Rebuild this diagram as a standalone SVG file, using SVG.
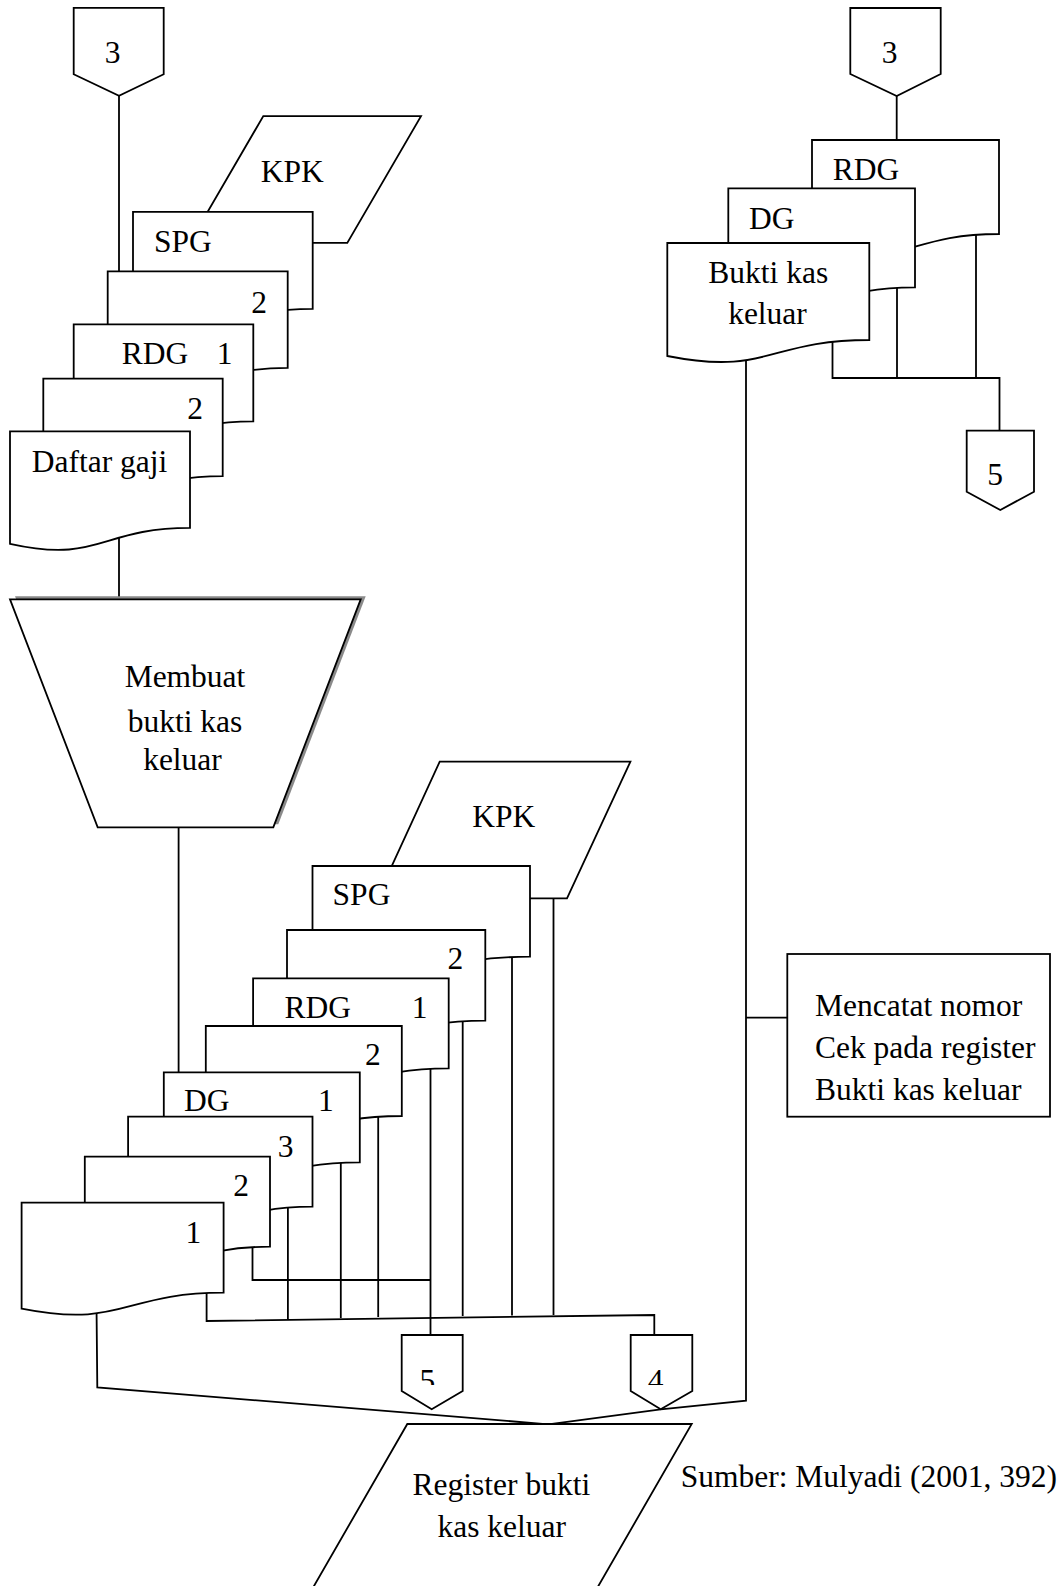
<svg xmlns="http://www.w3.org/2000/svg" width="1059" height="1586" viewBox="0 0 1059 1586">
  <style>
    .shape{fill:#fff;stroke:#000;stroke-width:1.8;stroke-linejoin:miter}
    .line{fill:none;stroke:#000;stroke-width:1.8}
    .shadow{fill:#8a8a8a;stroke:none}
    text{font-family:"Liberation Serif","Times New Roman",serif;font-size:31.5px;fill:#000}
    .mid{text-anchor:middle}
  </style>
  <defs>
    <clipPath id="cut-label">
      <rect x="380" y="1330" width="330" height="55"/>
    </clipPath>
  </defs>
  <rect width="1059" height="1586" fill="#fff"/>

  <!-- flow lines, drawn first so the documents cover their ends -->
  <g id="connectors">
    <!-- top left: off-page 3 to the document stack, stack to process -->
    <polyline class="line" points="119,95.7 119,272"/>
    <polyline class="line" points="119,535 119,599.3"/>
    <!-- process to the lower document stack -->
    <polyline class="line" points="178.6,827.3 178.6,1072.3"/>
    <!-- lower stack to off-page 4 (shared bus) -->
    <polyline class="line" points="553.5,898.3 553.5,1315"/>
    <polyline class="line" points="512,950 512,1315.5"/>
    <polyline class="line" points="462.7,1015 462.7,1316"/>
    <polyline class="line" points="378.2,1110 378.2,1317"/>
    <polyline class="line" points="340.8,1155 340.8,1318"/>
    <polyline class="line" points="287.9,1200 287.9,1319"/>
    <polyline class="line" points="206.6,1288 206.6,1321 654.3,1315 654.3,1335"/>
    <!-- lower stack to off-page 5 -->
    <polyline class="line" points="430.5,1064 430.5,1335"/>
    <polyline class="line" points="252.5,1244 252.5,1280 430.5,1280"/>
    <!-- first copy to the register -->
    <polyline class="line" points="96.5,1305 97.3,1387.3 548.3,1424.3"/>
    <!-- top right: off-page 3 to stack, stack to off-page 5 -->
    <polyline class="line" points="896.7,96 896.7,140"/>
    <polyline class="line" points="832.5,336 832.5,378 999.5,378 999.5,430.7"/>
    <polyline class="line" points="897,282 897,378"/>
    <polyline class="line" points="976,228 976,378"/>
    <!-- voucher to the register via check-number recording -->
    <polyline class="line" points="746,355 746,1400.7 660.7,1409.3 548.3,1424.3"/>
    <polyline class="line" points="746,1017.7 787.3,1017.7"/>
  </g>

  <!-- ===== top left ===== -->
  <g id="offpage-3-left">
    <polygon class="shape" points="73.7,7.9 163.7,7.9 163.7,74.3 119,95.7 73.7,74.3"/>
    <text class="mid" x="112.7" y="62.5">3</text>
  </g>
  <g id="kpk-top">
    <polygon class="shape" points="263.3,116.1 421,116.1 347.3,242.9 189.6,242.9"/>
    <text class="mid" x="292.2" y="182">KPK</text>
  </g>
  <g id="spg-top">
    <path class="shape" d="M133,211.8 H312.7 V308.9 C222.9,308.9 222.9,344.9 133,324.9 Z"/>
    <text x="154" y="251.8">SPG</text>
  </g>
  <g id="spg-copy2-top">
    <path class="shape" d="M107.7,271.4 H287.7 V367.9 C197.7,367.9 197.7,403.9 107.7,383.9 Z"/>
    <text class="mid" x="259" y="312.5">2</text>
  </g>
  <g id="rdg-top">
    <path class="shape" d="M73.7,324.3 H253.3 V421.4 C163.5,421.4 163.5,457.4 73.7,437.4 Z"/>
    <text x="121.7" y="363.6">RDG</text>
    <text class="mid" x="224.7" y="363.6">1</text>
  </g>
  <g id="rdg-copy2-top">
    <path class="shape" d="M43.3,378.6 H222.7 V476.1 C133,476.1 133,512.1 43.3,492.1 Z"/>
    <text class="mid" x="195" y="418.6">2</text>
  </g>
  <g id="daftar-gaji">
    <path class="shape" d="M10,431.4 H190 V527.9 C100,527.9 100,563.9 10,543.9 Z"/>
    <text x="31.7" y="472">Daftar gaji</text>
  </g>

  <!-- ===== process ===== -->
  <g id="membuat-bkk">
    <polygon class="shadow" points="15,596.3 365.7,596.3 278.3,824.3 102.7,824.3"/>
    <polygon class="shape" points="10,599.3 360.7,599.3 273.3,827.3 97.7,827.3"/>
    <text class="mid" x="185" y="686.7">Membuat</text>
    <text class="mid" x="185" y="731.7">bukti kas</text>
    <text class="mid" x="182.5" y="770">keluar</text>
  </g>

  <!-- ===== lower document stack ===== -->
  <g id="kpk-bottom">
    <polygon class="shape" points="439.7,761.7 630.4,761.7 567,898.3 376.9,898.3"/>
    <text class="mid" x="503.7" y="826.7">KPK</text>
  </g>
  <g id="spg-bottom">
    <path class="shape" d="M312.5,866 H530 V956.7 C421.3,956.7 421.3,992.7 312.5,972.7 Z"/>
    <text x="332.6" y="905">SPG</text>
  </g>
  <g id="spg-copy2-bottom">
    <path class="shape" d="M287,930 H485.3 V1020.7 C386.2,1020.7 386.2,1056.7 287,1036.7 Z"/>
    <text class="mid" x="455.4" y="969.3">2</text>
  </g>
  <g id="rdg-bottom">
    <path class="shape" d="M253.1,978.3 H448.7 V1068.3 C350.9,1068.3 350.9,1104.3 253.1,1084.3 Z"/>
    <text x="284.4" y="1018.3">RDG</text>
    <text class="mid" x="419.6" y="1018.3">1</text>
  </g>
  <g id="rdg-copy2-bottom">
    <path class="shape" d="M205.8,1026 H401.8 V1116 C303.8,1116 303.8,1152 205.8,1132 Z"/>
    <text class="mid" x="372.8" y="1065">2</text>
  </g>
  <g id="dg-bottom">
    <path class="shape" d="M163.8,1072.3 H359.8 V1162.3 C261.8,1162.3 261.8,1198.3 163.8,1178.3 Z"/>
    <text x="184" y="1111">DG</text>
    <text class="mid" x="325.9" y="1111">1</text>
  </g>
  <g id="bkk-copy3">
    <path class="shape" d="M128.1,1116.7 H312.5 V1206.7 C220.3,1206.7 220.3,1242.7 128.1,1222.7 Z"/>
    <text class="mid" x="285.7" y="1156.7">3</text>
  </g>
  <g id="bkk-copy2">
    <path class="shape" d="M84.8,1156.7 H270 V1246.7 C177.4,1246.7 177.4,1282.7 84.8,1262.7 Z"/>
    <text class="mid" x="241" y="1196">2</text>
  </g>
  <g id="bkk-copy1">
    <path class="shape" d="M21.6,1202.7 H223.6 V1292.7 C122.6,1292.7 122.6,1328.7 21.6,1308.7 Z"/>
    <text class="mid" x="193.3" y="1242.7">1</text>
  </g>

  <!-- ===== off-page connectors at the bottom ===== -->
  <g id="offpage-5-bottom">
    <polygon class="shape" points="401.7,1335 462.7,1335 462.7,1391 431.7,1409.3 401.7,1391"/>
    <text class="mid" x="427.3" y="1390.6" clip-path="url(#cut-label)">5</text>
  </g>
  <g id="offpage-4-bottom">
    <polygon class="shape" points="630.7,1335 692.3,1335 692.3,1391 660.7,1409.3 630.7,1391"/>
    <text class="mid" x="655.7" y="1391" clip-path="url(#cut-label)">4</text>
  </g>

  <!-- ===== register ===== -->
  <g id="register-bkk">
    <polygon class="shape" points="407.3,1424 691.7,1424 590.3,1600 305.9,1600"/>
    <text class="mid" x="501.4" y="1495">Register bukti</text>
    <text class="mid" x="501.7" y="1536.7">kas keluar</text>
  </g>

  <!-- ===== top right ===== -->
  <g id="offpage-3-right">
    <polygon class="shape" points="850.3,8 940.7,8 940.7,74 896.7,96 850.3,74"/>
    <text class="mid" x="889.7" y="62.7">3</text>
  </g>
  <g id="rdg-right">
    <path class="shape" d="M812,140 H999 V234 C905.5,234 905.5,270 812,250 Z"/>
    <text x="832.7" y="180">RDG</text>
  </g>
  <g id="dg-right">
    <path class="shape" d="M728.3,188.3 H915 V287.3 C821.7,287.3 821.7,323.3 728.3,303.3 Z"/>
    <text x="749" y="229">DG</text>
  </g>
  <g id="bkk-right">
    <path class="shape" d="M667.3,243 H869.3 V340 C768.3,340 768.3,376 667.3,356 Z"/>
    <text class="mid" x="768.3" y="282.7">Bukti kas</text>
    <text class="mid" x="767.5" y="324">keluar</text>
  </g>
  <g id="offpage-5-right">
    <polygon class="shape" points="966.7,430.7 1034,430.7 1034,491.7 1000.3,510 966.7,491.7"/>
    <text class="mid" x="995" y="485">5</text>
  </g>

  <!-- ===== manual step ===== -->
  <g id="mencatat-nomor-cek">
    <rect class="shape" x="787.3" y="954" width="262.7" height="162.7"/>
    <text x="815" y="1016">Mencatat nomor</text>
    <text x="815" y="1057.7">Cek pada register</text>
    <text x="815" y="1100">Bukti kas keluar</text>
  </g>

  <text id="source-note" x="680.7" y="1486.7">Sumber: Mulyadi (2001, 392)</text>
</svg>
